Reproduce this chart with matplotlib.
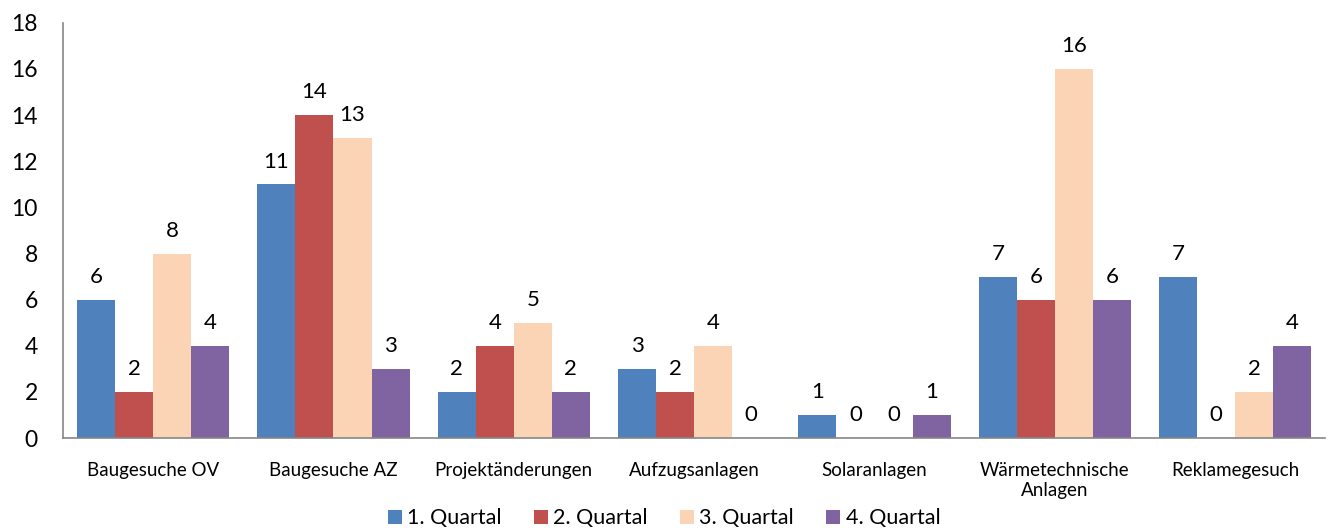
import matplotlib
matplotlib.use("Agg")
import matplotlib.pyplot as plt
import numpy as np

# chart data
categories = ["Baugesuche OV", "Baugesuche AZ", "Projektänderungen", "Aufzugsanlagen",
              "Solaranlagen", "Wärmetechnische\nAnlagen", "Reklamegesuch"]
series_names = ["1. Quartal", "2. Quartal", "3. Quartal", "4. Quartal"]
q1 = [6, 11, 2, 3, 1, 7, 7]
q2 = [2, 14, 4, 2, 0, 6, 0]
q3 = [8, 13, 5, 4, 0, 16, 2]
q4 = [4, 3, 2, 0, 1, 6, 4]
colors = ["#4F81BD", "#C0504D", "#FAD4B4", "#8064A2"]

plt.rcParams["font.family"] = ["Lato", "DejaVu Sans"]

fig = plt.figure(figsize=(13.28, 5.31), dpi=100)
ax = fig.add_axes([0.0474, 0.175, 0.9506, 0.782])

x = np.arange(len(categories))
w = 0.211
for i, (vals, name, c) in enumerate(zip([q1, q2, q3, q4], series_names, colors)):
    pos = x + (i - 1.5) * w
    ax.bar(pos, vals, width=w, color=c, label=name)
    for p, v in zip(pos, vals):
        ax.text(p, v + 0.55, str(v), ha="center", va="bottom", fontsize=16)

ax.set_xlim(-0.5, len(categories) - 0.5)
ax.set_ylim(0, 18)
ax.set_yticks(range(0, 19, 2))
ax.set_xticks(x)
ax.set_xticklabels(categories, fontsize=13.5, linespacing=1.25)
ax.tick_params(axis="y", length=0, labelsize=16.5, pad=18)
ax.tick_params(axis="x", length=0, pad=17)
for s in ["top", "right"]:
    ax.spines[s].set_visible(False)
for s in ["left", "bottom"]:
    ax.spines[s].set_color("#868686")
    ax.spines[s].set_linewidth(1.2)

fig.legend(*ax.get_legend_handles_labels(), loc="center", bbox_to_anchor=(0.5, 0.024),
           ncol=4, frameon=False, fontsize=15.5, handlelength=0.65, handleheight=0.65,
           handletextpad=0.25, columnspacing=1.5, borderpad=0)

fig.savefig("out.png", dpi=100)
